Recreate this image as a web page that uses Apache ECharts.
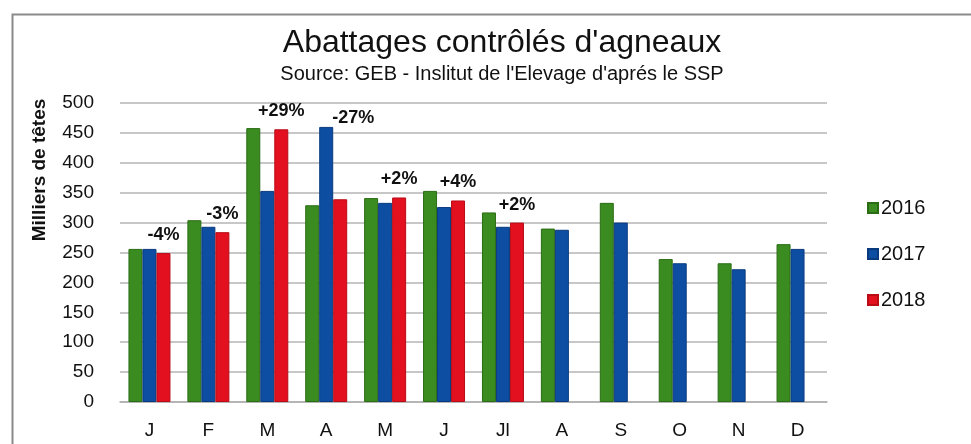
<!DOCTYPE html>
<html>
<head>
<meta charset="utf-8">
<script src="https://cdn.jsdelivr.net/npm/echarts@6/dist/echarts.min.js"></script>
<style>
    html, body { margin: 0; padding: 0; background: #fff; }
    #graficaAbattages { width: 971px; height: 444px; }
</style>
</head>
<body>
<div id="graficaAbattages"></div>
<script>
// datos (milliers de tetes)
let meses = ['J', 'F', 'M', 'A', 'M', 'J', 'Jl', 'A', 'S', 'O', 'N', 'D'];
let valores2016 = [256, 304, 458, 329, 341, 353, 317, 290, 333, 239, 232, 264];
let valores2017 = [256, 293, 353, 460, 333, 326, 293, 288, 300, 232, 222, 256];
let valores2018 = [249, 284, 456, 339, 342, 337, 300, null, null, null, null, null];
let variaciones = ['-4%', '-3%', '+29%', '-27%', '+2%', '+4%', '+2%', '', '', '', '', ''];
let ticksY = [0, 50, 100, 150, 200, 250, 300, 350, 400, 450, 500];

let fuente = '"Liberation Sans Narrow", "Liberation Sans", Arial, sans-serif';

function serieBarra(nombre, datos, color, borde) {
    return {
        name: nombre,
        type: 'bar',
        barWidth: 14,
        barGap: '0%',
        itemStyle: { color: color, borderColor: borde, borderWidth: 1 },
        data: datos
    };
}

let chartDom = document.getElementById('graficaAbattages');
let myChart = echarts.init(chartDom);

let serie2018 = serieBarra('2018', valores2018.map(function(v, i) {
    let item = { value: v };
    if (variaciones[i]) {
        item.label = { show: true, formatter: variaciones[i] };
        // avril : l'etiquette est au-dessus de la barre 2017
        if (i === 3) item.label.offset = [13, -63];
    }
    return item;
}), '#e3101f', '#b90c17');
serie2018.label = {
    position: 'top',
    distance: 9,
    fontFamily: fuente,
    fontSize: 18,
    fontWeight: 'bold',
    color: '#111'
};

let option = {
    animation: false,
    backgroundColor: '#fff',
    textStyle: { fontFamily: fuente },
    title: {
        text: 'Abattages contrôlés d\'agneaux',
        subtext: 'Source: GEB - Inslitut de l\'Elevage d\'aprés le SSP',
        left: 497,
        textAlign: 'center',
        top: 22,
        itemGap: 5,
        textStyle: { fontFamily: fuente, fontSize: 32, fontWeight: 'normal', color: '#111' },
        subtextStyle: { fontFamily: fuente, fontSize: 20, color: '#111' }
    },
    legend: {
        orient: 'vertical',
        left: 862,
        top: 193,
        itemWidth: 10,
        itemHeight: 10,
        itemGap: 26,
        icon: 'rect',
        textStyle: { fontFamily: fuente, fontSize: 20, color: '#111', padding: [0, 0, 0, -2] },
        data: ['2016', '2017', '2018']
    },
    graphic: [
        {
            type: 'rect',
            left: 10,
            top: 12,
            shape: { width: 1000, height: 500 },
            style: { fill: 'none', stroke: '#8a8a8a', lineWidth: 2 }
        },
        {
            type: 'text',
            x: 40,
            y: 170,
            rotation: Math.PI / 2,
            style: {
                text: 'Milliers de têtes',
                fontFamily: fuente,
                fontSize: 19,
                fontWeight: 'bold',
                fill: '#111',
                align: 'center',
                verticalAlign: 'middle'
            }
        }
    ],
    grid: {
        left: 120,
        right: 144,
        top: 103,
        bottom: 42
    },
    xAxis: {
        type: 'category',
        data: meses,
        axisTick: { show: false },
        axisLine: { lineStyle: { color: '#b0b0b0', width: 1.5 } },
        axisLabel: { fontFamily: fuente, fontSize: 19, color: '#111', margin: 19 }
    },
    yAxis: {
        type: 'value',
        min: ticksY[0],
        max: ticksY[ticksY.length - 1],
        interval: ticksY[1] - ticksY[0],
        axisLine: { show: false },
        axisTick: { show: false },
        splitLine: { lineStyle: { color: '#b5b5b5', width: 1.5 } },
        axisLabel: { fontFamily: fuente, fontSize: 19, color: '#111', margin: 26 }
    },
    series: [
        serieBarra('2016', valores2016, '#3b8c20', '#2a6c14'),
        serieBarra('2017', valores2017, '#0d4ea3', '#0a3a7e'),
        serie2018
    ]
};
option && myChart.setOption(option);
</script>
</body>
</html>
